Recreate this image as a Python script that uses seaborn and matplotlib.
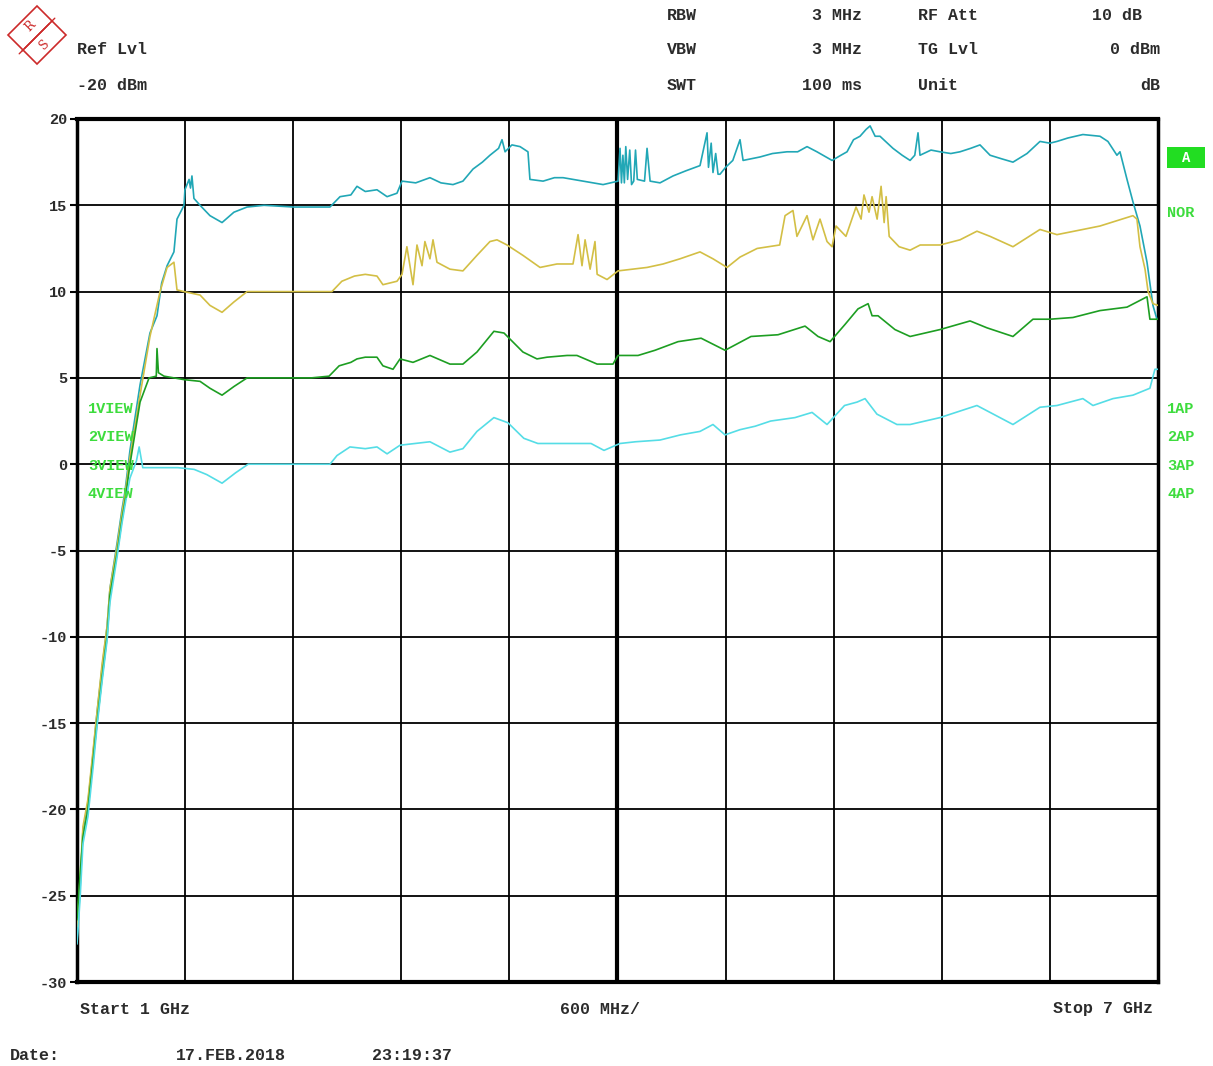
import numpy as np
import pandas as pd
import matplotlib
matplotlib.use("Agg")
import matplotlib.pyplot as plt
from matplotlib.patches import Polygon, Rectangle
import seaborn as sns

# trace 1 (teal), frequency in GHz, level in dB
teal_f = [1.000, 1.017, 1.033, 1.061, 1.089, 1.111, 1.139, 1.167, 1.183, 1.222, 1.250, 1.266, 1.294, 1.350,
          1.405, 1.444, 1.470, 1.500, 1.538, 1.555, 1.594, 1.599, 1.622, 1.630, 1.638, 1.649,
          1.683, 1.738, 1.805, 1.871, 1.944, 2.038, 2.204, 2.404, 2.460, 2.520, 2.554, 2.600, 2.665, 2.721,
          2.776, 2.804, 2.880, 2.959, 3.020, 3.087, 3.142, 3.198, 3.250, 3.292, 3.340, 3.359, 3.376, 3.414,
          3.459, 3.503, 3.514, 3.587, 3.650, 3.698, 3.809, 3.920, 4.003, 4.014, 4.022, 4.030, 4.038, 4.046,
          4.056, 4.068, 4.078, 4.090, 4.100, 4.110, 4.150, 4.164, 4.181, 4.236, 4.308, 4.380, 4.458, 4.497,
          4.505, 4.520, 4.530, 4.545, 4.558, 4.569, 4.600, 4.640, 4.680, 4.697, 4.791, 4.860, 4.941, 5.000,
          5.052, 5.107, 5.191, 5.240, 5.274, 5.310, 5.346, 5.380, 5.402, 5.430, 5.457, 5.529, 5.580, 5.624,
          5.650, 5.668, 5.679, 5.740, 5.790, 5.850, 5.901, 5.960, 6.012, 6.068, 6.130, 6.195, 6.273, 6.345,
          6.400, 6.439, 6.500, 6.583, 6.678, 6.722, 6.772, 6.789, 6.828, 6.861, 6.900, 6.939, 6.972, 6.994]
teal_db = [-27.6, -24.6, -21.2, -19.6, -16.8, -14.4, -11.8, -9.4, -7.2, -4.6, -2.6, -1.6, 0.8, 4.6,
           7.6, 8.6, 10.5, 11.5, 12.3, 14.2, 15.0, 15.9, 16.5, 16.0, 16.7, 15.4,
           15.0, 14.4, 14.0, 14.6, 14.9, 15.0, 14.9, 14.9, 15.5, 15.6, 16.1, 15.8, 15.9, 15.5,
           15.7, 16.4, 16.3, 16.6, 16.3, 16.2, 16.4, 17.1, 17.5, 17.9, 18.3, 18.8, 18.1, 18.5,
           18.4, 18.1, 16.5, 16.4, 16.6, 16.6, 16.4, 16.2, 16.4, 18.3, 16.3, 17.9, 16.3, 18.4,
           16.5, 18.2, 16.2, 16.4, 18.2, 16.5, 16.4, 18.3, 16.4, 16.3, 16.7, 17.0, 17.3, 19.2,
           17.2, 18.6, 16.9, 18.0, 16.8, 16.8, 17.2, 17.6, 18.8, 17.6, 17.8, 18.0, 18.1, 18.1,
           18.4, 18.1, 17.6, 17.9, 18.1, 18.8, 19.0, 19.4, 19.6, 19.0, 19.0, 18.3, 17.9, 17.6,
           17.9, 19.2, 17.9, 18.2, 18.1, 18.0, 18.1, 18.3, 18.5, 17.9, 17.7, 17.5, 18.0, 18.7,
           18.6, 18.7, 18.9, 19.1, 19.0, 18.7, 17.9, 18.1, 16.5, 15.2, 13.8, 11.7, 9.2, 8.4]

# trace 2 (yellow)
yellow_f = [1.000, 1.017, 1.033, 1.061, 1.089, 1.111, 1.139, 1.167, 1.183, 1.222, 1.250, 1.266, 1.294, 1.350,
            1.405, 1.461, 1.500, 1.538, 1.555, 1.594, 1.683, 1.738, 1.805, 1.871, 1.944, 2.100,
            2.300, 2.415, 2.470, 2.540, 2.600, 2.665, 2.698, 2.776, 2.804, 2.831, 2.865, 2.887, 2.915, 2.931,
            2.959, 2.976, 2.998, 3.070, 3.142, 3.220, 3.292, 3.331, 3.387, 3.475, 3.570, 3.664, 3.753, 3.781,
            3.803, 3.820, 3.848, 3.875, 3.887, 3.942, 4.003, 4.164, 4.253, 4.347, 4.458, 4.530, 4.608, 4.680,
            4.775, 4.900, 4.930, 4.974, 4.996, 5.052, 5.085, 5.124, 5.163, 5.191, 5.213, 5.268, 5.324, 5.352,
            5.368, 5.396, 5.413, 5.441, 5.463, 5.480, 5.491, 5.508, 5.563, 5.624, 5.680, 5.790, 5.901, 5.995,
            6.068, 6.195, 6.345, 6.439, 6.583, 6.678, 6.861, 6.883, 6.900, 6.928, 6.945, 6.972, 7.000]
yellow_db = [-26.8, -24.0, -21.0, -19.4, -16.6, -14.4, -11.6, -9.4, -7.2, -4.8, -2.8, -1.8, 0.4, 4.0,
             7.4, 10.0, 11.4, 11.7, 10.1, 10.0, 9.8, 9.2, 8.8, 9.4, 10.0, 10.0,
             10.0, 10.0, 10.6, 10.9, 11.0, 10.9, 10.4, 10.6, 11.0, 12.6, 10.4, 12.7, 11.5, 12.9,
             11.9, 13.0, 11.7, 11.3, 11.2, 12.1, 12.9, 13.0, 12.7, 12.1, 11.4, 11.6, 11.6, 13.3,
             11.5, 13.0, 11.3, 12.9, 11.0, 10.7, 11.2, 11.4, 11.6, 11.9, 12.3, 11.9, 11.4, 12.0,
             12.5, 12.7, 14.4, 14.7, 13.2, 14.4, 13.0, 14.2, 12.9, 12.6, 13.8, 13.2, 14.9, 14.2,
             15.6, 14.6, 15.5, 14.2, 16.1, 14.0, 15.5, 13.2, 12.6, 12.4, 12.7, 12.7, 13.0, 13.5,
             13.2, 12.6, 13.6, 13.3, 13.6, 13.8, 14.4, 14.2, 12.6, 11.3, 10.0, 9.3, 9.2]

# trace 3 (green)
green_f = [1.000, 1.017, 1.033, 1.061, 1.089, 1.111, 1.139, 1.167, 1.183, 1.222, 1.250, 1.266, 1.294, 1.350,
           1.400, 1.440, 1.444, 1.452, 1.483, 1.594, 1.683, 1.738, 1.805, 1.871, 1.944, 2.100, 2.300,
           2.399, 2.455, 2.520, 2.554, 2.600, 2.665, 2.698, 2.754, 2.793, 2.865, 2.959, 3.070, 3.142, 3.220,
           3.314, 3.370, 3.475, 3.553, 3.609, 3.720, 3.775, 3.887, 3.975, 4.003, 4.114, 4.208, 4.336, 4.464,
           4.597, 4.741, 4.891, 5.041, 5.113, 5.180, 5.263, 5.335, 5.391, 5.413, 5.446, 5.540, 5.624, 5.790,
           5.957, 6.051, 6.195, 6.306, 6.400, 6.528, 6.678, 6.828, 6.939, 6.955, 7.000]
green_db = [-26.4, -23.8, -21.6, -20.0, -17.2, -15.0, -12.4, -10.0, -7.6, -5.2, -3.2, -2.2, 0.0, 3.6,
            5.0, 5.1, 6.7, 5.3, 5.1, 4.9, 4.8, 4.4, 4.0, 4.5, 5.0, 5.0, 5.0,
            5.1, 5.7, 5.9, 6.1, 6.2, 6.2, 5.7, 5.5, 6.1, 5.9, 6.3, 5.8, 5.8, 6.5,
            7.7, 7.6, 6.5, 6.1, 6.2, 6.3, 6.3, 5.8, 5.8, 6.3, 6.3, 6.6, 7.1, 7.3,
            6.6, 7.4, 7.5, 8.0, 7.4, 7.1, 8.1, 9.0, 9.3, 8.6, 8.6, 7.8, 7.4, 7.8,
            8.3, 7.9, 7.4, 8.4, 8.4, 8.5, 8.9, 9.1, 9.7, 8.4, 8.4]

# trace 4 (cyan)
cyan_f = [1.000, 1.017, 1.033, 1.061, 1.089, 1.111, 1.139, 1.167, 1.183, 1.222, 1.250, 1.266, 1.294, 1.330,
          1.345, 1.365, 1.450, 1.560, 1.650, 1.720, 1.805, 1.880, 1.950, 2.100, 2.300, 2.404, 2.443, 2.515,
          2.600, 2.665, 2.721, 2.793, 2.959, 3.070, 3.142, 3.220, 3.314, 3.392, 3.480, 3.558, 3.700, 3.853,
          3.925, 4.014, 4.100, 4.236, 4.350, 4.458, 4.530, 4.597, 4.680, 4.764, 4.850, 4.985, 5.080, 5.163,
          5.260, 5.330, 5.374, 5.440, 5.551, 5.624, 5.790, 5.995, 6.068, 6.195, 6.345, 6.439, 6.583, 6.639,
          6.750, 6.861, 6.955, 6.983, 7.000]
cyan_db = [-27.8, -25.2, -22.0, -20.4, -17.6, -15.2, -12.6, -10.2, -8.0, -5.4, -3.4, -2.4, -0.8, 0.2,
           1.0, -0.2, -0.2, -0.2, -0.3, -0.6, -1.1, -0.5, 0.0, 0.0, 0.0, 0.0, 0.5, 1.0,
           0.9, 1.0, 0.6, 1.1, 1.3, 0.7, 0.9, 1.9, 2.7, 2.4, 1.5, 1.2, 1.2, 1.2,
           0.8, 1.2, 1.3, 1.4, 1.7, 1.9, 2.3, 1.7, 2.0, 2.2, 2.5, 2.7, 3.0, 2.3,
           3.4, 3.6, 3.8, 2.9, 2.3, 2.3, 2.7, 3.4, 3.0, 2.3, 3.3, 3.4, 3.8, 3.4,
           3.8, 4.0, 4.4, 5.5, 5.5]

y_ticks = [20, 15, 10, 5, 0, -5, -10, -15, -20, -25, -30]
left_labels = ["1VIEW", "2VIEW", "3VIEW", "4VIEW"]
right_labels = ["1AP", "2AP", "3AP", "4AP"]

W, H = 1213, 1066
MONO = "Liberation Mono"
TXT = "#2b2b2b"
LBL_GREEN = "#3ddc3d"

sns.set_style("white")
plt.rcParams["font.family"] = [MONO, "DejaVu Sans Mono"]

fig = plt.figure(figsize=(W / 100, H / 100), dpi=100)
fig.patch.set_facecolor("white")


def fx(x):
    return x / W


def fy(y):
    return 1 - y / H


ax = fig.add_axes([fx(77), fy(982), fx(1158) - fx(77), fy(119) - fy(982)])

traces = [(teal_f, teal_db, "#21a7b6"), (yellow_f, yellow_db, "#d3bf45"),
          (green_f, green_db, "#1d9e22"), (cyan_f, cyan_db, "#55dde6")]
for f, db, col in traces:
    df = pd.DataFrame({"freq": f, "level": db})
    sns.lineplot(data=df, x="freq", y="level", color=col, linewidth=1.2, ax=ax,
                 estimator=None, sort=False, zorder=3)

ax.set_xlim(1, 7)
ax.set_ylim(-30, 20)
ax.set_xticks(np.arange(1, 7.01, 0.6))
ax.set_xticklabels([])
ax.set_yticks(y_ticks)
ax.set_yticklabels([str(t) for t in y_ticks], fontsize=11, fontweight="bold", color=TXT)
ax.tick_params(axis="x", length=0)
ax.tick_params(axis="y", length=5, width=1.5, color="black", pad=2, left=True, direction="out")
ax.set_xlabel("")
ax.set_ylabel("")
ax.grid(True, color="black", linewidth=1.3, zorder=1)
ax.axvline(4.0, color="black", linewidth=3, zorder=2)
for s in ax.spines.values():
    s.set_color("black")
    s.set_linewidth(2.5)
ax.spines["top"].set_linewidth(3)
ax.spines["bottom"].set_linewidth(3)

tk = dict(fontsize=12, fontweight="bold", color=TXT, va="center")

# header
fig.text(fx(77), fy(50), "Ref Lvl", ha="left", **tk)
fig.text(fx(77), fy(85), "-20 dBm", ha="left", **tk)
fig.text(fx(667), fy(16), "RBW", ha="left", **tk)
fig.text(fx(862), fy(16), "3 MHz", ha="right", **tk)
fig.text(fx(667), fy(50), "VBW", ha="left", **tk)
fig.text(fx(862), fy(50), "3 MHz", ha="right", **tk)
fig.text(fx(667), fy(85), "SWT", ha="left", **tk)
fig.text(fx(862), fy(85), "100 ms", ha="right", **tk)
fig.text(fx(918), fy(16), "RF Att", ha="left", **tk)
fig.text(fx(1142), fy(16), "10 dB", ha="right", **tk)
fig.text(fx(918), fy(50), "TG Lvl", ha="left", **tk)
fig.text(fx(1160), fy(50), "0 dBm", ha="right", **tk)
fig.text(fx(918), fy(85), "Unit", ha="left", **tk)
fig.text(fx(1160), fy(85), "dB", ha="right", **tk)

# footer
fig.text(fx(80), fy(1009), "Start 1 GHz", ha="left", **tk)
fig.text(fx(560), fy(1009), "600 MHz/", ha="left", **tk)
fig.text(fx(1153), fy(1009), "Stop 7 GHz", ha="right", **tk)
fig.text(fx(10), fy(1056), "Date:", ha="left", **tk)
fig.text(fx(176), fy(1056), "17.FEB.2018", ha="left", **tk)
fig.text(fx(372), fy(1056), "23:19:37", ha="left", **tk)

# trace labels
gk = dict(fontsize=11, fontweight="bold", color=LBL_GREEN, va="center", zorder=5)
for i, (l, r) in enumerate(zip(left_labels, right_labels)):
    yy = 409 + i * 28.3
    fig.text(fx(88), fy(yy), l, ha="left", **gk)
    fig.text(fx(1167), fy(yy), r, ha="left", **gk)
fig.text(fx(1167), fy(213), "NOR", ha="left", **gk)
fig.add_artist(Rectangle((fx(1167), fy(168)), fx(38), fy(147) - fy(168),
                         transform=fig.transFigure, facecolor="#22dd22", edgecolor="none"))
fig.text(fx(1186), fy(157.5), "A", ha="center", va="center", fontsize=10,
         fontweight="bold", color="white")

# R&S logo
red = "#cc2a2a"
diamond = [(fx(37), fy(6)), (fx(66), fy(35)), (fx(37), fy(64)), (fx(8), fy(35))]
fig.add_artist(Polygon(diamond, closed=True, transform=fig.transFigure,
                       facecolor="none", edgecolor=red, linewidth=1.2))
for off in (-4, 0, 4):
    fig.add_artist(plt.Line2D([fx(52 + off * 0.7), fx(22 + off * 0.7)],
                              [fy(21 - off * 0.7), fy(51 - off * 0.7)],
                              transform=fig.transFigure, color=red, linewidth=1.0))
fig.text(fx(30), fy(26), "R", ha="center", va="center", fontsize=9, color=red, rotation=45,
         family="DejaVu Serif")
fig.text(fx(45), fy(45), "S", ha="center", va="center", fontsize=9, color=red, rotation=45,
         family="DejaVu Serif")

fig.savefig("out.png", dpi=100)
